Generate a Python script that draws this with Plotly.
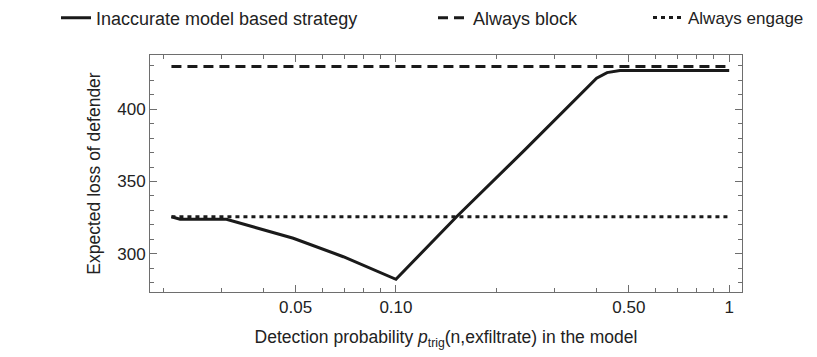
import plotly.graph_objects as go

# Data
p_model = [0.0212, 0.0225, 0.031, 0.0492, 0.0695, 0.100, 0.152, 0.2436, 0.400, 0.430, 0.470, 1.0]
loss_model = [325.6, 323.8, 323.8, 310.7, 297.9, 282.3, 325.6, 371.8, 421.5, 425.3, 426.7, 426.7]
p_const = [0.0212, 1.0]
loss_block = [429.5, 429.5]
loss_engage = [325.6, 325.6]

x_tickvals = [0.05, 0.1, 0.5, 1]
x_ticktext = ["0.05", "0.10", "0.50", "1"]
x_minor = [0.02, 0.03, 0.04, 0.06, 0.07, 0.08, 0.09, 0.2, 0.3, 0.4, 0.6, 0.7, 0.8, 0.9]

FONT = "Liberation Sans, Arial, Helvetica, sans-serif"
LINE = "#1a1a1a"
AX = "#6e6e6e"

# page body has an 8px margin, so the figure is drawn 8px smaller
W, H = 809, 349

fig = go.Figure()
fig.add_trace(go.Scatter(x=p_model, y=loss_model, mode="lines",
                         name="Inaccurate model based strategy", showlegend=True,
                         line=dict(color=LINE, width=3), legend="legend2"))
fig.add_trace(go.Scatter(x=p_const, y=loss_block, mode="lines",
                         name="Always block", showlegend=True,
                         line=dict(color=LINE, width=3, dash="10px,6px"), legend="legend3"))
fig.add_trace(go.Scatter(x=p_const, y=loss_engage, mode="lines",
                         name="Always engage", showlegend=True,
                         line=dict(color=LINE, width=3, dash="4px,4px"), legend="legend4"))

leg_common = dict(orientation="h", xref="container", yref="container",
                  yanchor="middle", y=1 - 10 / H, xanchor="left",
                  bgcolor="rgba(0,0,0,0)", borderwidth=0)

fig.update_layout(
    width=W, height=H,
    showlegend=True,
    margin=dict(l=142, r=75, t=47, b=65, autoexpand=False),
    paper_bgcolor="white", plot_bgcolor="white",
    font=dict(family=FONT, size=17, color="#222"),
    legend2=dict(x=48 / W, font=dict(family=FONT, size=18, color="#222"), **leg_common),
    legend3=dict(x=425 / W, font=dict(family=FONT, size=18, color="#222"), **leg_common),
    legend4=dict(x=640 / W, font=dict(family=FONT, size=17, color="#222"), **leg_common),
    xaxis=dict(
        type="log", range=[-1.738, 0.0384],
        tickvals=x_tickvals, ticktext=x_ticktext,
        ticks="inside", ticklen=7, tickwidth=1, tickcolor=AX,
        minor=dict(tickvals=x_minor, ticks="inside", ticklen=4, tickcolor=AX, showgrid=False),
        showline=True, linecolor=AX, linewidth=1, mirror="allticks",
        showgrid=False, zeroline=False,
        tickfont=dict(family=FONT, size=17, color="#222"),
        title=dict(text="Detection probability <i>p</i><sub>trig</sub>(n,exfiltrate) in the model",
                   font=dict(family=FONT, size=17.5, color="#222"), standoff=14),
    ),
    yaxis=dict(
        range=[273.5, 437.5],
        tickvals=[300, 350, 400],
        ticks="inside", ticklen=7, tickwidth=1, tickcolor=AX,
        minor=dict(dtick=10, tick0=0, ticks="inside", ticklen=4, tickcolor=AX, showgrid=False),
        showline=True, linecolor=AX, linewidth=1, mirror="allticks",
        showgrid=False, zeroline=False,
        tickfont=dict(family=FONT, size=17, color="#222"),
        title=dict(text="Expected loss of defender",
                   font=dict(family=FONT, size=17.5, color="#222"), standoff=12),
    ),
)

fig.write_html("out.html")
